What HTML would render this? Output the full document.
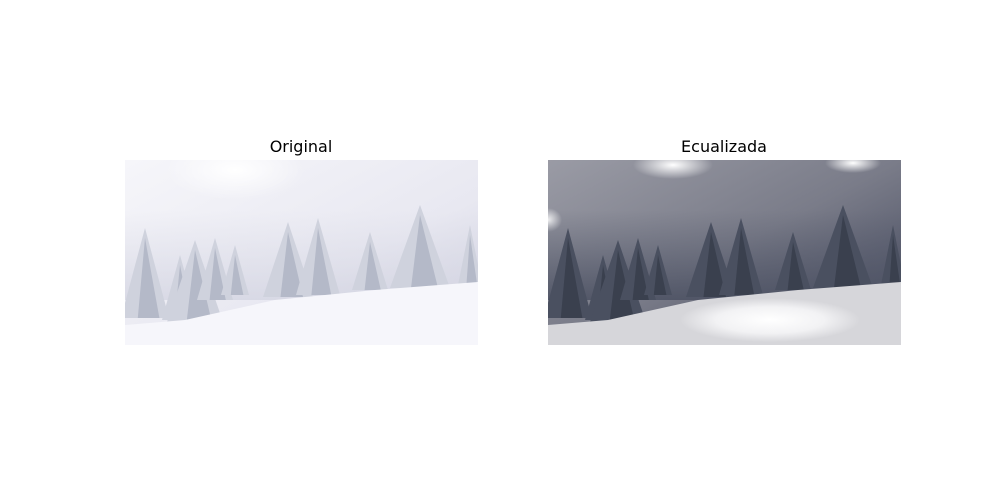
<!DOCTYPE html>
<html><head><meta charset="utf-8"><style>
body{margin:0;background:#fff;}
svg{display:block;}
text{font-family:"DejaVu Sans","Liberation Sans",sans-serif;font-size:16px;fill:#000;}
</style></head><body>
<svg width="1000" height="500">
<defs>
<clipPath id="clip"><rect x="0" y="0" width="353" height="185"/></clipPath>
<linearGradient id="skyL" x1="0" y1="0" x2="1" y2="1"><stop offset="0" stop-color="#f6f6fa"/><stop offset="0.6" stop-color="#e8e8f1"/><stop offset="1" stop-color="#cfd0df"/></linearGradient>
<linearGradient id="skyR" x1="0" y1="0" x2="1" y2="1"><stop offset="0" stop-color="#9a9ba5"/><stop offset="0.5" stop-color="#7a7c89"/><stop offset="1" stop-color="#3e4358"/></linearGradient>
<linearGradient id="hazeL" x1="0" y1="0" x2="0" y2="1"><stop offset="0" stop-color="#dadbe6" stop-opacity="0"/><stop offset="1" stop-color="#d4d5e2" stop-opacity="0.8"/></linearGradient>
<linearGradient id="hazeR" x1="0" y1="0" x2="0" y2="1"><stop offset="0" stop-color="#5a5f70" stop-opacity="0"/><stop offset="1" stop-color="#4e5364" stop-opacity="0.9"/></linearGradient>
<radialGradient id="snowR" cx="0.5" cy="0.5" r="0.5"><stop offset="0" stop-color="#ffffff"/><stop offset="0.6" stop-color="#f2f2f4"/><stop offset="1" stop-color="#d6d6da"/></radialGradient>
<radialGradient id="glow" cx="0.5" cy="0.5" r="0.5"><stop offset="0" stop-color="#ffffff"/><stop offset="1" stop-color="#ffffff" stop-opacity="0"/></radialGradient>
</defs>
<text x="301" y="152" text-anchor="middle">Original</text>
<text x="724" y="152" text-anchor="middle">Ecualizada</text>
<g transform="translate(125,160)"><g id="left" clip-path="url(#clip)"></g></g>
<g transform="translate(548,160)"><g id="right" clip-path="url(#clip)"></g></g>
</svg>
<script>
const treeX=[20,55,70,90,110,163,193,245,295,345];
const treeTop=[68,95,80,78,85,62,58,72,45,65];
const treeBase=[158,160,162,140,135,137,135,130,128,125];
const treeHW=[24,18,28,18,14,25,22,18,30,12];
const NS='http://www.w3.org/2000/svg';
function mk(t,a,p){const e=document.createElementNS(NS,t);for(const k in a)e.setAttribute(k,a[k]);p.appendChild(e);return e;}
function panel(g,sky,tree,treeD,ground,isR){
  const bg=mk('rect',{x:0,y:0,width:353,height:185,fill:sky},g);
  
  
  if(isR){mk('ellipse',{cx:125,cy:5,rx:40,ry:14,fill:'url(#glow)'},g);mk('ellipse',{cx:305,cy:3,rx:28,ry:10,fill:'url(#glow)'},g);mk('ellipse',{cx:0,cy:60,rx:14,ry:12,fill:'url(#glow)'},g);}
  else{mk('ellipse',{cx:110,cy:10,rx:70,ry:30,fill:'url(#glow)'},g);}
  mk('rect',{x:0,y:50,width:353,height:90,fill:isR?'url(#hazeR)':'url(#hazeL)'},g);
  for(let i=0;i<treeX.length;i++){
    const x=treeX[i],t=treeTop[i],b=treeBase[i],w=treeHW[i];
    const p=mk('polygon',{points:`${x},${t} ${x+w},${b} ${x-w},${b}`,fill:tree},g);
    
    
    mk('polygon',{points:`${x},${t+10} ${x+w*0.6},${b} ${x-w*0.3},${b}`,fill:treeD,opacity:0.5},g);
  }
  const gr=mk('polygon',{points:'0,165 60,160 150,140 250,130 353,122 353,185 0,185',fill:ground},g);
  
  
  if(isR)mk('ellipse',{cx:222,cy:160,rx:90,ry:22,fill:'url(#snowR)'},g);
}
panel(document.getElementById('left'),'url(#skyL)','#cfd2dd','#9aa0b3','#f6f6fb',false);
panel(document.getElementById('right'),'url(#skyR)','#4a5060','#2a2f3c','#d6d6da',true);
</script>
</body></html>
